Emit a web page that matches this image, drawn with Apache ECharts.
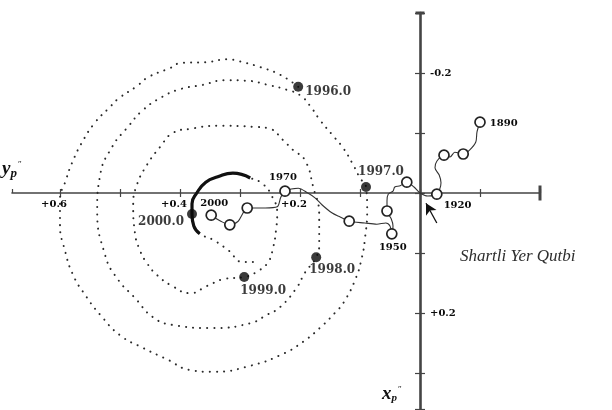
<!DOCTYPE html>
<html>
<head>
<meta charset="utf-8">
<script src="https://cdn.jsdelivr.net/npm/echarts@6/dist/echarts.min.js"></script>
<style>
  html, body { margin: 0; padding: 0; background: #fff; }
  #chart { width: 612px; height: 410px; }
</style>
</head>
<body>
<div id="chart"></div>
<script>
// Polhode 1996.0 - 2000.x : [y_p, x_p] in arcseconds
const polhode = [
  [0.203,-0.177],[0.233,-0.197],[0.267,-0.210],[0.303,-0.220],[0.320,-0.223],
  [0.358,-0.218],[0.397,-0.217],[0.417,-0.208],[0.453,-0.193],[0.472,-0.178],
  [0.503,-0.157],[0.517,-0.143],[0.542,-0.117],[0.563,-0.085],[0.580,-0.050],
  [0.590,-0.022],[0.600,0.012],[0.600,0.053],[0.592,0.095],[0.578,0.137],
  [0.558,0.170],[0.533,0.203],[0.500,0.237],[0.462,0.258],[0.422,0.277],
  [0.383,0.295],[0.345,0.298],[0.283,0.288],[0.228,0.268],[0.195,0.248],
  [0.167,0.225],[0.142,0.200],[0.127,0.182],[0.107,0.142],[0.097,0.108],
  [0.092,0.078],[0.088,0.028],[0.090,-0.010],[0.100,-0.025],[0.113,-0.050],
  [0.128,-0.075],[0.142,-0.092],[0.167,-0.122],[0.183,-0.145],[0.200,-0.163],
  [0.222,-0.172],[0.253,-0.180],[0.287,-0.187],[0.325,-0.188],[0.363,-0.180],
  [0.400,-0.173],[0.430,-0.160],[0.462,-0.138],[0.487,-0.110],[0.513,-0.077],
  [0.533,-0.030],[0.538,0.028],[0.525,0.103],[0.505,0.142],[0.475,0.175],
  [0.445,0.207],[0.412,0.220],[0.345,0.225],[0.283,0.217],[0.255,0.203],
  [0.233,0.190],[0.205,0.157],[0.192,0.133],[0.173,0.107],[0.168,0.083],
  [0.168,0.037],[0.178,-0.010],[0.192,-0.055],[0.212,-0.072],[0.228,-0.088],
  [0.250,-0.107],[0.272,-0.110],[0.338,-0.112],[0.383,-0.107],[0.412,-0.100],
  [0.433,-0.077],[0.455,-0.047],[0.472,-0.013],[0.478,0.020],[0.475,0.067],
  [0.467,0.095],[0.455,0.117],[0.438,0.137],[0.413,0.155],[0.383,0.167],
  [0.355,0.155],[0.325,0.143],[0.293,0.140],[0.270,0.130],[0.253,0.115],
  [0.245,0.092],[0.240,0.062],[0.238,0.033],[0.247,0.005],[0.262,-0.015],
  [0.283,-0.025],[0.312,-0.033],[0.337,-0.027],[0.357,-0.018],[0.372,0.000],
  [0.380,0.018],[0.380,0.035],[0.377,0.055],[0.367,0.068],[0.345,0.078],
  [0.320,0.095],[0.295,0.115],[0.270,0.115]
];

// Epochs marked on the polhode (index into polhode)
const epochLabels = ['1996.0', '1997.0', '1998.0', '1999.0', '2000.0'];
const epochIndex  = [0, 37, 68, 92, 106];

// Latest stretch of the polhode drawn as a heavy line
const recentStart = 100;
const recentEnd = 108;

// Mean pole track since 1890: [y_p, x_p, decade or null]
const meanPole = [
  [-0.100,-0.118,1890],[-0.095,-0.102,null],[-0.093,-0.085,null],[-0.083,-0.072,null],
  [-0.072,-0.065,1900],[-0.058,-0.068,null],[-0.050,-0.060,null],
  [-0.040,-0.063,1910],[-0.028,-0.053,null],[-0.025,-0.042,null],[-0.032,-0.030,null],
  [-0.035,-0.017,null],[-0.033,-0.007,null],
  [-0.028,0.002,1920],[-0.013,0.005,null],[0.000,0.000,null],[0.010,-0.010,null],
  [0.022,-0.018,1930],[0.033,-0.012,null],[0.042,-0.010,null],[0.045,-0.003,null],
  [0.053,0.002,null],[0.055,0.013,null],
  [0.055,0.030,1940],[0.048,0.043,null],[0.045,0.055,null],
  [0.047,0.068,1950],[0.050,0.055,null],[0.057,0.050,null],[0.072,0.052,null],[0.092,0.050,null],
  [0.118,0.047,1960],[0.133,0.040,null],[0.147,0.033,null],[0.163,0.020,null],
  [0.175,0.008,null],[0.187,0.000,null],[0.203,-0.008,null],
  [0.225,-0.003,1970],[0.232,0.007,null],[0.238,0.023,null],[0.258,0.025,null],
  [0.288,0.025,1980],[0.297,0.037,null],[0.303,0.047,null],
  [0.317,0.053,1990],[0.332,0.047,null],
  [0.348,0.037,2000]
];
const labelledDecades = [1890, 1920, 1950, 1970, 2000];

// Axis tick labels
const yTickLabels = [0.6, 0.4, 0.2];
const xTickLabels = [-0.2, 0.2];

// Pointer toward the reference pole: [from, to]
const poleArrow = [[-0.028, 0.050], [-0.010, 0.017]];

// Axis ranges shared by the data grid and the two axis grids
const Y_MIN = -0.2, Y_MAX = 0.68;
const X_MIN = -0.3, X_MAX = 0.36;

const serif = "'DejaVu Serif', 'Liberation Serif', serif";
const ink = '#0a0a0a';
const axisInk = '#444';

const decadeLabelStyle = {
  1890: { position: 'right', distance: 4, offset: [0, 1] },
  1920: { position: 'right', distance: 2, offset: [-1, 11] },
  1950: { position: 'bottom', distance: 3, offset: [1, 0] },
  1970: { position: 'top', distance: 3, offset: [-2, 0] },
  2000: { position: 'top', distance: 1, offset: [3, 0] }
};
const epochLabelStyle = {
  '1996.0': { position: 'right', distance: 2, offset: [0, 5] },
  '1997.0': { position: 'top', distance: 4, offset: [15, 0] },
  '1998.0': { position: 'bottom', distance: 2, offset: [16, 0] },
  '1999.0': { position: 'bottom', distance: 3, offset: [19, 0] },
  '2000.0': { position: 'left', distance: 3, offset: [0, 8] }
};

const fmt = v => (v > 0 ? '+' : (v < 0 ? '-' : '')) + Math.abs(v).toFixed(1);
const near = (v, list) => list.some(t => Math.abs(t - v) < 1e-6);

const meanPoleData = meanPole.map(p => {
  const item = { value: [p[0], p[1]] };
  if (p[2] !== null) {
    item.symbol = 'circle';
    if (labelledDecades.includes(p[2])) {
      const s = decadeLabelStyle[p[2]];
      item.label = {
        show: true, formatter: String(p[2]), position: s.position,
        distance: s.distance, offset: s.offset,
        fontFamily: serif, fontWeight: 'bold', fontSize: 10, color: ink
      };
    }
  } else {
    item.symbol = 'none';
  }
  return item;
});

const epochData = epochIndex.map((idx, k) => {
  const s = epochLabelStyle[epochLabels[k]];
  return {
    value: polhode[idx],
    label: {
      show: true, formatter: epochLabels[k], position: s.position,
      distance: s.distance, offset: s.offset,
      fontFamily: serif, fontWeight: 'bold', fontSize: 12, color: ink
    }
  };
});

const hidden = { show: false };
const tickStyle = { color: axisInk, width: 1.2 };

const chart = echarts.init(document.getElementById('chart'), null, { renderer: 'canvas' });
chart.setOption({
  animation: false,
  backgroundColor: '#fff',
  grid: [
    // data area
    { left: 12, top: 13, width: 528, height: 396, outerBoundsMode: 'none', containLabel: false },
    // horizontal (y_p) axis, its lower edge sits on x_p = 0
    { left: 12, top: 0, width: 528, height: 193, outerBoundsMode: 'none', containLabel: false },
    // vertical (x_p) axis, its left edge sits on y_p = 0
    { left: 420, top: 13, width: 100, height: 396, outerBoundsMode: 'none', containLabel: false }
  ],
  xAxis: [
    { type: 'value', gridIndex: 0, min: Y_MIN, max: Y_MAX, inverse: true, show: false },
    {
      type: 'value', gridIndex: 1, position: 'bottom', min: Y_MIN, max: Y_MAX, interval: 0.1, inverse: true,
      splitLine: hidden,
      axisLine: { onZero: false, symbol: ['none', 'rect'], symbolSize: [15, 3], lineStyle: { color: axisInk, width: 1.6 } },
      axisTick: { show: true, length: 4, lineStyle: tickStyle },
      axisLabel: {
        show: true, showMinLabel: false, showMaxLabel: false, margin: 6, padding: [0, 12, 0, 0],
        formatter: v => near(v, yTickLabels) ? fmt(v) : '',
        fontFamily: serif, fontWeight: 'bold', fontSize: 10, color: ink
      }
    },
    {
      type: 'value', gridIndex: 1, position: 'bottom', min: Y_MIN, max: Y_MAX, interval: 0.1, inverse: true,
      splitLine: hidden,
      axisLine: { show: false, onZero: false },
      axisTick: { show: true, inside: true, length: 4, lineStyle: tickStyle },
      axisLabel: hidden
    },
    { type: 'value', gridIndex: 2, min: 0, max: 1, show: false }
  ],
  yAxis: [
    { type: 'value', gridIndex: 0, min: X_MIN, max: X_MAX, inverse: true, show: false },
    {
      type: 'value', gridIndex: 2, position: 'left', min: X_MIN, max: X_MAX, interval: 0.1, inverse: true,
      splitLine: hidden,
      axisLine: { onZero: false, symbol: ['none', 'rect'], symbolSize: [9, 3], lineStyle: { color: axisInk, width: 2.6 } },
      axisTick: { show: true, length: 5, lineStyle: tickStyle },
      axisLabel: {
        show: true, inside: true, margin: 10,
        formatter: v => near(v, xTickLabels) ? fmt(v) : '',
        fontFamily: serif, fontWeight: 'bold', fontSize: 10, color: ink
      }
    },
    {
      type: 'value', gridIndex: 2, position: 'left', min: X_MIN, max: X_MAX, interval: 0.1, inverse: true,
      splitLine: hidden,
      axisLine: { show: false, onZero: false },
      axisTick: { show: true, inside: true, length: 5, lineStyle: tickStyle },
      axisLabel: hidden
    },
    { type: 'value', gridIndex: 1, min: 0, max: 1, show: false }
  ],
  series: [
    {
      name: 'polhode',
      type: 'line', xAxisIndex: 0, yAxisIndex: 0,
      data: polhode, smooth: 0.5, symbol: 'none',
      lineStyle: { color: '#2a2a2a', width: 2, type: [0.1, 7], cap: 'round' },
      z: 2
    },
    {
      name: 'polhode recent',
      type: 'line', xAxisIndex: 0, yAxisIndex: 0,
      data: polhode.slice(recentStart, recentEnd + 1), smooth: 0.5, symbol: 'none',
      lineStyle: { color: '#111', width: 3.2 },
      z: 3
    },
    {
      name: 'mean pole',
      type: 'line', xAxisIndex: 0, yAxisIndex: 0,
      data: meanPoleData, smooth: 0.3,
      symbolSize: 10,
      itemStyle: { color: '#fff', borderColor: '#222', borderWidth: 1.7 },
      lineStyle: { color: '#333', width: 1.1 },
      markLine: {
        silent: true, symbol: ['none', 'arrow'], symbolSize: [9, 11],
        label: { show: false },
        lineStyle: { color: '#111', width: 1.3, type: 'solid' },
        data: [[{ coord: poleArrow[0] }, { coord: poleArrow[1] }]]
      },
      z: 4
    },
    {
      name: 'epochs',
      type: 'scatter', xAxisIndex: 0, yAxisIndex: 0,
      data: epochData, symbolSize: 10,
      itemStyle: { color: '#0a0a0a' },
      z: 5
    }
  ],
  graphic: [
    {
      type: 'text', left: 460, top: 248,
      style: {
        text: 'Shartli Yer Qutbi', fill: '#2e2e2e',
        font: "italic 17px 'Liberation Serif', 'DejaVu Serif', serif"
      }
    },
    {
      type: 'text', left: 382, top: 385,
      style: {
        text: '{v|x}{s|p}{q|\u2033}',
        rich: {
          v: { font: "italic bold 19px 'Liberation Serif', serif", fill: '#111' },
          s: { font: "italic bold 11px 'Liberation Serif', serif", fill: '#111', padding: [8, 0, 0, 0] },
          q: { font: "9px 'Liberation Serif', serif", fill: '#111', padding: [0, 0, 10, 1] }
        }
      }
    },
    {
      type: 'text', left: 2, top: 160,
      style: {
        text: '{v|y}{s|p}{q|\u2033}',
        rich: {
          v: { font: "italic bold 19px 'Liberation Serif', serif", fill: '#111' },
          s: { font: "italic bold 13px 'Liberation Serif', serif", fill: '#111', padding: [8, 0, 0, 0] },
          q: { font: "9px 'Liberation Serif', serif", fill: '#111', padding: [0, 0, 10, 1] }
        }
      }
    }
  ]
});
</script>
</body>
</html>
